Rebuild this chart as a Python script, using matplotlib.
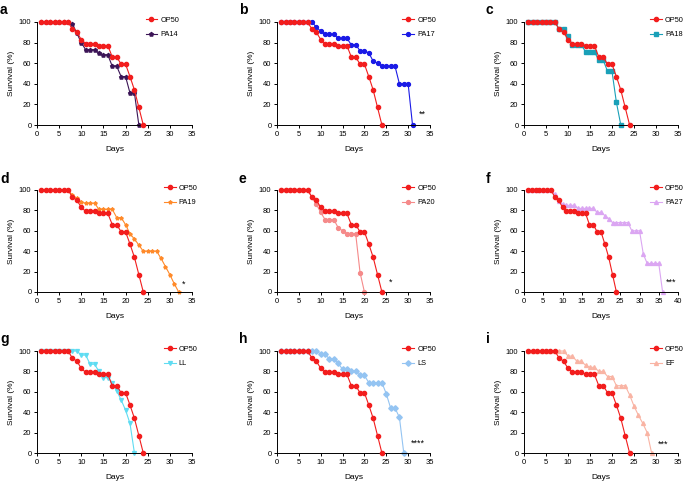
import matplotlib
matplotlib.use("Agg")
import matplotlib.pyplot as plt

plt.rcParams['font.family'] = ['Liberation Sans', 'DejaVu Sans']

# survival data (% alive per day)
days_op50 = list(range(1, 25))
op50 = [100, 100, 100, 100, 100, 100, 100, 93, 90, 83, 79, 79, 79, 77, 77, 77,
        66, 66, 59, 59, 47, 34, 17, 0]

pa14 = [100] * 7 + [98, 89, 80, 73, 73, 73, 70, 68, 68, 57, 57, 47, 47, 31, 31, 0]
pa17 = [100] * 7 + [100, 95, 91, 88, 88, 88, 84, 84, 84, 78, 78, 72, 72, 70, 62, 60,
                    57, 57, 57, 57, 40, 40, 40, 0]
pa18 = [100] * 7 + [93, 93, 86, 78, 78, 78, 71, 71, 71, 63, 63, 52, 52, 22, 0]
pa19 = [100] * 7 + [95, 92, 88, 87, 87, 87, 81, 81, 81, 81, 73, 73, 66, 57, 52, 46,
                    40, 40, 40, 40, 33, 25, 17, 8, 0]
pa20 = [100] * 7 + [93, 86, 78, 71, 71, 71, 63, 60, 57, 57, 57, 19, 0]
pa27 = [100] * 7 + [96, 89, 86, 85, 85, 85, 82, 82, 82, 82, 82, 78, 78, 75, 72, 68,
                    68, 68, 68, 68, 60, 60, 60, 37, 28, 28, 28, 28, 0]
ll = [100] * 7 + [100, 100, 96, 96, 87, 87, 80, 74, 74, 69, 61, 52, 42, 29, 0]
ls = [100] * 7 + [100, 100, 97, 97, 92, 92, 88, 82, 82, 80, 80, 76, 76, 69, 69, 69,
                  69, 58, 44, 44, 35, 0]
ef = [100] * 7 + [100, 100, 95, 95, 90, 90, 86, 84, 84, 80, 80, 75, 75, 66, 66, 66,
                  57, 46, 37, 29, 20, 0]

panels = [
    ("a", "PA14", pa14, "#3b1456", "p", 35, "", None),
    ("b", "PA17", pa17, "#1a1ae6", "o", 35, "**", (33.2, 10)),
    ("c", "PA18", pa18, "#1aa0b8", "s", 35, "", None),
    ("d", "PA19", pa19, "#ff8a2a", "*", 35, "*", (33, 8)),
    ("e", "PA20", pa20, "#f58a8a", "o", 35, "*", (26, 10)),
    ("f", "PA27", pa27, "#dba6f2", "^", 40, "***", (38.2, 10)),
    ("g", "LL", ll, "#5fdcf2", "v", 35, "", None),
    ("h", "LS", ls, "#94c4f2", "D", 35, "****", (32.3, 10)),
    ("i", "EF", ef, "#f9b4a4", "^", 35, "***", (31.6, 9)),
]

W, H = 685, 482
fig = plt.figure(figsize=(6.85, 4.82), dpi=100)

col_x = [(37, 192), (277, 430), (524, 678)]
row_y = [(22, 125), (190, 292), (351, 453)]
label_x = [0, 239, 486]
label_y = [3, 172, 332]

for k, (lab, name, vals, col, mk, xmax, star, star_pos) in enumerate(panels):
    r, c = divmod(k, 3)
    x0, x1 = col_x[c]
    y0, y1 = row_y[r]
    ax = fig.add_axes([x0 / W, (H - y1) / H, (x1 - x0) / W, (y1 - y0) / H])

    d = list(range(1, len(vals) + 1))
    ax.plot(d, vals, color=col, marker=mk, markersize=2.8, linewidth=0.8,
            clip_on=False, zorder=2, label=name)
    ax.plot(days_op50, op50, color="#f21d1d", marker="o", markersize=3,
            linewidth=0.8, clip_on=False, zorder=3, label="OP50")

    ax.set_xlim(0, xmax)
    ax.set_ylim(0, 100)
    ax.set_xticks(range(0, xmax + 1, 5))
    ax.set_yticks(range(0, 101, 20))
    for s in ["top", "right"]:
        ax.spines[s].set_visible(False)
    for s in ["left", "bottom"]:
        ax.spines[s].set_linewidth(0.7)
    ax.tick_params(labelsize=5.5, length=2.5, width=0.7, pad=1.5)
    ax.set_xlabel("Days", fontsize=6, labelpad=6)
    ax.set_ylabel("Survival (%)", fontsize=6, labelpad=3)

    h, l = ax.get_legend_handles_labels()
    lx = 0.70 if lab == "a" else 0.82
    ax.legend(h[::-1], l[::-1], loc="upper left", bbox_to_anchor=(lx, 1.05),
              frameon=False, fontsize=5.3, handlelength=1.6, handletextpad=0.4,
              labelspacing=0.95, borderaxespad=0, borderpad=0)

    if star:
        ax.text(star_pos[0], star_pos[1], star, fontsize=6.5, ha="center",
                va="center")

    fig.text(label_x[c] / W, 1 - label_y[r] / H, lab, fontsize=10,
             fontweight="bold", ha="left", va="top")

fig.savefig("out.png", dpi=100)
